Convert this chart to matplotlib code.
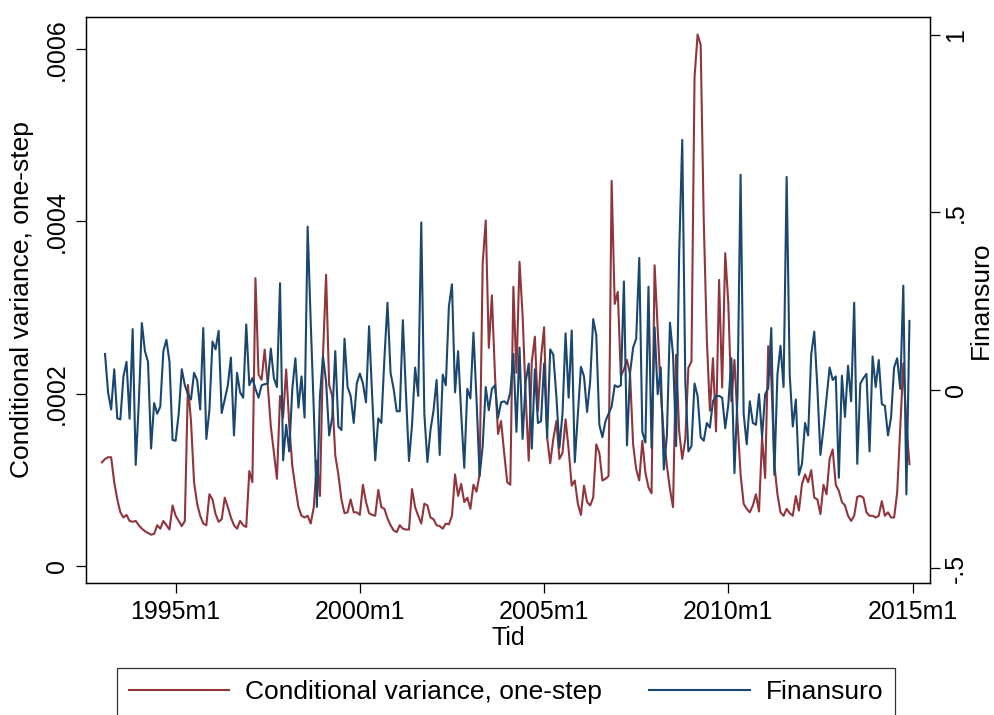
import numpy as np
import matplotlib
matplotlib.use("Agg")
import matplotlib.pyplot as plt

plt.rcParams['font.family'] = ['Liberation Sans', 'DejaVu Sans']

# monthly, 1993m1 .. 2014m12
start_year = 1993
n_months = 264

# conditional variance, one-step (units of 1e-4)
condvar = [
    1.20, 1.24, 1.26, 1.26, 0.97, 0.77, 0.62, 0.56, 0.59, 0.52, 0.51, 0.52,
    0.47, 0.43, 0.40, 0.38, 0.36, 0.37, 0.47, 0.43, 0.52, 0.47, 0.42, 0.70,
    0.58, 0.52, 0.46, 0.52, 2.10, 1.68, 0.97, 0.72, 0.58, 0.49, 0.47, 0.83,
    0.77, 0.60, 0.51, 0.54, 0.79, 0.68, 0.56, 0.47, 0.43, 0.52, 0.47, 0.45,
    1.10, 0.97, 3.34, 2.22, 2.16, 2.51, 2.10, 1.62, 1.31, 1.01, 1.97, 1.72,
    2.28, 1.64, 1.16, 0.91, 0.68, 0.58, 0.56, 0.58, 0.49, 0.68, 1.22, 0.81,
    2.45, 3.38, 2.10, 1.97, 1.28, 1.06, 0.77, 0.61, 0.62, 0.77, 0.62, 0.62,
    0.59, 0.94, 0.74, 0.61, 0.59, 0.58, 0.88, 0.68,
    0.66, 0.55, 0.47, 0.41, 0.39, 0.47, 0.43, 0.42, 0.42, 0.89, 0.68, 0.58,
    0.49, 0.72, 0.70, 0.56, 0.54, 0.47, 0.46, 0.43, 0.49, 0.48, 0.58, 1.06,
    0.81, 0.95, 0.74, 0.79, 0.66, 0.94, 0.86, 1.06, 3.51, 4.01, 2.53, 3.14,
    2.22, 1.53, 1.68, 1.31, 0.97, 0.94, 3.24, 2.24, 3.53, 2.91,
    1.97, 1.22, 2.37, 2.66, 1.80, 2.41, 2.77, 1.49, 1.19, 1.47, 1.68, 1.24,
    1.31, 1.70, 1.35, 0.93, 0.99, 0.72, 0.59, 0.93, 0.74, 0.70, 0.79, 1.41,
    1.31, 0.99, 1.01, 1.04, 4.47, 3.04, 3.18, 2.20, 2.28, 2.39, 2.22, 1.41,
    1.12, 0.99, 1.45, 1.08, 0.91, 0.84, 3.49, 2.76, 2.01, 1.51,
    1.16, 0.89, 0.68, 2.45, 1.56, 1.24, 1.47, 2.30, 2.37, 5.67, 6.17, 6.05,
    4.01, 2.64, 1.80, 2.41, 1.56, 3.32, 2.07, 3.63, 3.05, 1.91, 2.39, 1.68,
    1.06, 0.72, 0.66, 0.62, 0.70, 0.83, 0.63, 1.49, 1.02, 2.55, 2.18, 1.18,
    0.83, 0.62, 0.58, 0.66, 0.61, 0.58, 0.81, 0.64, 0.95, 1.06,
    0.97, 1.11, 0.79, 0.77, 0.60, 0.94, 0.83, 1.24, 1.35, 0.94, 0.87, 0.74,
    0.70, 0.58, 0.52, 0.58, 0.80, 0.81, 0.79, 0.62, 0.58, 0.58, 0.56, 0.58,
    0.75, 0.58, 0.62, 0.56, 0.56, 0.85, 1.60, 2.35, 1.64, 1.18,
]

# Finansuro (starts 1993m2)
finansuro = [
    np.nan,
    0.102, -0.006, -0.054, 0.059, -0.079, -0.082, 0.039, 0.080, -0.080, 0.172,
    -0.210, -0.036, 0.189, 0.110, 0.080, -0.164, -0.036, -0.066, -0.046, 0.110,
    0.142, 0.080, -0.140, -0.142, -0.066, 0.059, 0.014, -0.011, -0.026, 0.049,
    0.029, -0.054, 0.175, -0.137, -0.056, 0.137, 0.115, 0.167, -0.064, -0.026,
    0.014, 0.092, -0.127, 0.049, -0.006, -0.021, 0.185,
    0.014, 0.034, 0.004, -0.021, 0.014, 0.017, 0.019, 0.117, 0.034, 0.009,
    0.301, -0.197, -0.097, -0.172, 0.004, 0.090, -0.049, 0.039, -0.077, 0.460,
    0.190, -0.056, -0.328, -0.016, 0.095, 0.024, -0.127, -0.077, 0.110, -0.102,
    -0.112, 0.145, 0.009, -0.016, -0.092, 0.019, 0.047, 0.019, -0.034, 0.180,
    -0.016, -0.197, -0.079, -0.092,
    0.090, 0.246, 0.049, 0.004, -0.059, -0.059, 0.197, -0.006, -0.199, -0.097,
    0.064, -0.016, 0.472, -0.066, -0.202, -0.112, -0.056, 0.029, -0.182, 0.044,
    0.014, 0.236, 0.298, -0.006, 0.110, -0.066, -0.218, 0.004, -0.023, 0.162,
    -0.026, -0.241, -0.157, 0.009, -0.056, 0.004, 0.014, -0.077, -0.034, -0.031,
    -0.039, -0.006, 0.102, -0.117, 0.120, -0.137,
    0.024, 0.075, -0.164, 0.059, -0.092, -0.087, 0.075, -0.132, 0.115, 0.100,
    -0.016, -0.162, -0.066, 0.160, -0.021, 0.168, -0.202, -0.066, 0.066, 0.039,
    -0.061, 0.024, 0.200, 0.155, -0.097, -0.132, -0.087, -0.066, -0.046, 0.014,
    0.009, 0.014, 0.306, -0.155, 0.049, 0.120, 0.145, 0.372, -0.117, -0.147,
    0.291, -0.162, 0.177, -0.011, 0.064, -0.223,
    -0.127, 0.190, 0.100, -0.157, 0.387, 0.704, 0.024, -0.172, -0.157, 0.019,
    -0.016, -0.132, -0.142, -0.092, -0.105, -0.031, -0.016, -0.016, -0.021, -0.107,
    -0.041, 0.090, -0.233, -0.016, 0.606, -0.066, -0.152, -0.031, -0.092, -0.097,
    -0.011, -0.132, -0.011, 0.006, 0.175, -0.238, 0.044, 0.125, 0.009, 0.600,
    0.044, -0.102, -0.026, -0.238, -0.207, -0.092,
    -0.127, 0.100, 0.165, 0.009, -0.182, -0.107, -0.021, 0.064, 0.029, 0.039,
    -0.246, 0.041, -0.075, 0.069, -0.031, 0.246, -0.207, 0.019, 0.034, 0.046,
    -0.172, 0.095, 0.009, 0.085, -0.039, -0.044, -0.127, -0.077, 0.064, 0.090,
    0.004, 0.294, -0.293, 0.195,
]

tick_years = [1995, 2000, 2005, 2010, 2015]
tick_labels = [f"{y}m1" for y in tick_years]
left_ticks = [0, 0.0002, 0.0004, 0.0006]
left_labels = ["0", ".0002", ".0004", ".0006"]
right_ticks = [-0.5, 0, 0.5, 1]
right_labels = ["-.5", "0", ".5", "1"]

red = "#90353B"
blue = "#1A476F"

months = np.arange(n_months)
cv = np.array(condvar) * 1e-4
fin = np.array(finansuro)

fig = plt.figure(figsize=(9.95, 7.15), dpi=100)
ax = fig.add_axes([0.0861, 0.1846, 0.8486, 0.7916])
ax2 = ax.twinx()

l1, = ax.plot(months, cv, color=red, lw=1.5)
l2, = ax2.plot(months, fin, color=blue, lw=1.5)

ax.set_xlim(-5.3, 269.7)
ax.set_ylim(-0.0000201, 0.0006373)
ax2.set_ylim(-0.542, 1.0495)

ax.set_xticks([(y - start_year) * 12 for y in tick_years])
ax.set_xticklabels(tick_labels)
ax.set_yticks(left_ticks)
ax.set_yticklabels(left_labels, rotation=90, va='center')
ax2.set_yticks(right_ticks)
ax2.set_yticklabels(right_labels, rotation=90, va='center')

for a in (ax, ax2):
    a.tick_params(length=7, width=0.9, labelsize=18, pad=5, color='black')
    for s in a.spines.values():
        s.set_linewidth(0.9)
        s.set_color('black')
ax2.tick_params(axis='y', pad=3)

ax.set_xlabel("Tid", fontsize=18, labelpad=2)
ax.set_ylabel("Conditional variance, one-step", fontsize=19, labelpad=8)
ax2.set_ylabel("Finansuro", fontsize=19, labelpad=1)

leg = fig.legend([l1, l2], ["Conditional variance, one-step", "Finansuro"],
                 loc='upper left', bbox_to_anchor=(117 / 995, 1 - 668 / 715),
                 ncol=2, fontsize=19, frameon=True, fancybox=False,
                 edgecolor='black', borderaxespad=0, borderpad=0.45,
                 handlelength=3.8, handletextpad=0.6, columnspacing=1.8)
leg.get_frame().set_linewidth(0.9)

fig.savefig("out.png", dpi=100)
